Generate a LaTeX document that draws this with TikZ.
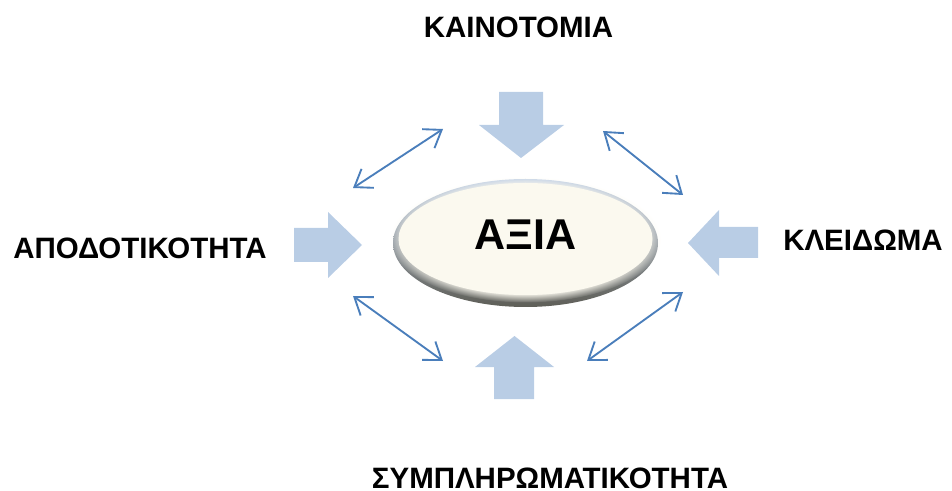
\documentclass[tikz,border=0pt]{standalone}
\usepackage{fontspec}
\setmainfont{Liberation Sans}
\usetikzlibrary{arrows.meta,fadings}

\definecolor{fatblue}{HTML}{B9CDE5}
\definecolor{linkblue}{HTML}{4A7EBB}
\definecolor{cream}{HTML}{FBF9EF}
\definecolor{rimtop}{HTML}{BFCFE6}
\definecolor{rimmid}{HTML}{F0EEE4}
\definecolor{rimbot}{HTML}{5E5E57}

\tikzset{
  label/.style={anchor=base, inner sep=0pt, font=\bfseries\fontsize{22.1}{26}\selectfont},
  fatarrow/.style={fill=fatblue, draw=none},
  link/.style={draw=linkblue, line width=1.4pt, line cap=round,
    {Straight Barb[length=12pt,width=17pt,line width=1.4pt]}-{Straight Barb[length=12pt,width=17pt,line width=1.4pt]}},
}

\begin{document}
\begin{tikzpicture}[x=0.75pt,y=-0.75pt]
  \useasboundingbox (0,0) rectangle (952,491);

  % central value ellipse: bevelled rim, then the cream face
  \shade[top color=rimtop, middle color=rimmid, bottom color=rimbot]
    (525.5,243) ellipse [x radius=132.5, y radius=64];
  \fill[cream, path fading=circle with fuzzy edge 15 percent]
    (525.5,239.5) ellipse [x radius=136, y radius=63];
  \fill[cream] (525.5,239) ellipse [x radius=127, y radius=56];
  \node[anchor=base, inner sep=0pt, font=\bfseries\fontsize{32.3}{36}\selectfont]
    (value) at (525.5,250) {ΑΞΙΑ};

  % labels
  \node[label] (innov) at (518.5,38) {ΚΑΙΝΟΤΟΜΙΑ};
  \node[label] (effic) at (140,259) {ΑΠΟΔΟΤΙΚΟΤΗΤΑ};
  \node[label] (lock)  at (863,251) {ΚΛΕΙΔΩΜΑ};
  \node[label] (compl) at (550,488) {ΣΥΜΠΛΗΡΩΜΑΤΙΚΟΤΗΤΑ};

  % block arrows pointing at the ellipse
  \fill[fatarrow] (499,92) -- (543,92) -- (543,125) -- (564,125)
    -- (521,158) -- (479,125) -- (499,125) -- cycle;
  \fill[fatarrow] (494,399) -- (534,399) -- (534,367) -- (554,367)
    -- (514.5,336) -- (475,367) -- (494,367) -- cycle;
  \fill[fatarrow] (294,228) -- (328,228) -- (328,212) -- (362,245)
    -- (328,278) -- (328,262) -- (294,262) -- cycle;
  \fill[fatarrow] (758,227) -- (719,227) -- (719,210) -- (688,243)
    -- (719,276) -- (719,258) -- (758,258) -- cycle;

  % two-way links between neighbouring drivers
  \coordinate (ul1) at (353,188); \coordinate (ul2) at (443,129);
  \coordinate (ur1) at (603,131); \coordinate (ur2) at (683,195);
  \coordinate (ll1) at (353,296); \coordinate (ll2) at (443,361);
  \coordinate (lr1) at (683,292); \coordinate (lr2) at (587,361);
  \draw[link] (ul1) -- (ul2);
  \draw[link] (ur1) -- (ur2);
  \draw[link] (ll1) -- (ll2);
  \draw[link] (lr1) -- (lr2);
\end{tikzpicture}
\end{document}
